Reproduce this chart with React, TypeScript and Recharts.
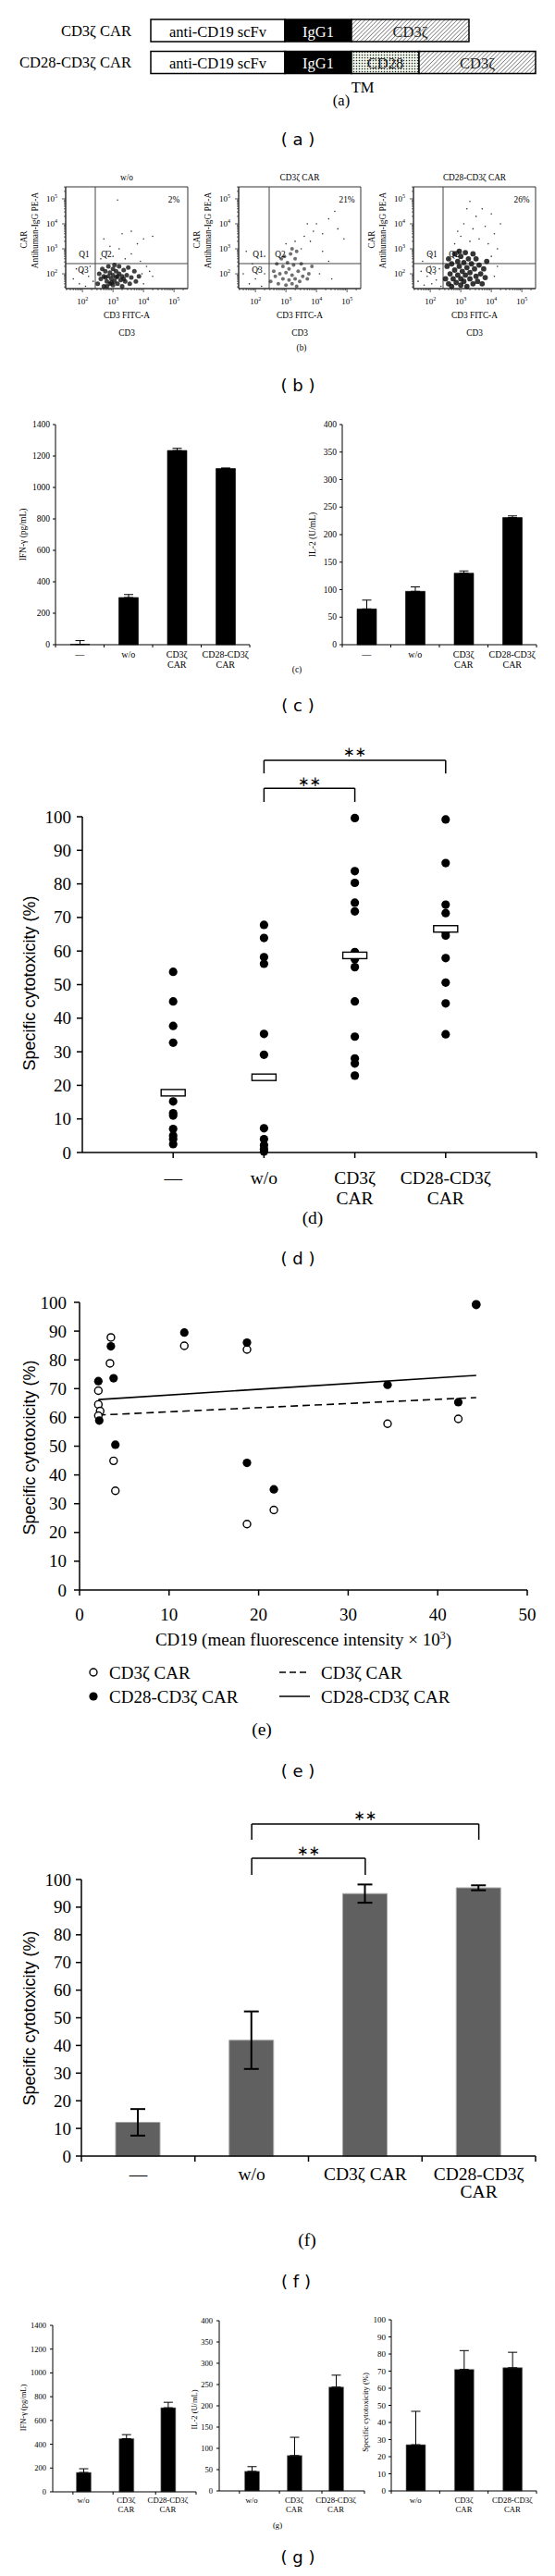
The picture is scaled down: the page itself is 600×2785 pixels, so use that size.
import React from "react";
import {
  ComposedChart,
  BarChart,
  Bar,
  Scatter,
  XAxis,
  YAxis,
  ErrorBar,
  ReferenceLine,
  ReferenceDot,
  ReferenceArea,
  LabelList,
} from "recharts";

const SERIF = '"Liberation Serif", "DejaVu Serif", serif';
const SANS = '"Liberation Sans", Arial, sans-serif';
const TAG = '"DejaVu Sans", sans-serif';

// (a) CAR constructs, segment lengths
const constructs = ["CD3ζ CAR", "CD28-CD3ζ CAR"];
const scfvLen = [145, 145];
const iggLen = [72, 72];
const cd28Len = [0, 73];
const cd3zLen = [127, 126];

// (b) flow cytometry, log10 units [CD3 FITC, CAR PE]
const flowTitles = ["w/o", "CD3ζ CAR", "CD28-CD3ζ CAR"];
const flowPct = ["2%", "21%", "26%"];
const flowGateX = [2.42, 2.45, 2.42];
const flowGateY = 2.41;
const woCore = [[2.5,1.6],[2.55,2.0],[2.6,1.8],[2.65,2.2],[2.7,1.5],[2.7,1.9],[2.75,2.1],[2.8,1.7],[2.85,2.3],[2.85,1.9],[2.9,1.6],[2.9,2.05],[2.95,1.8],[3.0,1.55],[3.0,2.2],[3.0,1.95],[3.05,1.7],[3.1,2.1],[3.1,1.85],[3.15,1.6],[3.2,2.0],[3.2,2.3],[3.25,1.75],[3.3,1.9],[3.3,1.5],[3.35,2.15],[3.4,1.7],[3.45,1.95],[3.5,2.25],[3.55,1.6],[3.6,1.85],[3.7,2.1],[3.75,1.7],[3.85,1.9],[2.8,1.5],[3.05,2.35],[2.95,1.65],[3.15,1.9],[2.75,1.85],[3.35,1.8]];
const woSparse = [[1.7,1.8],[1.9,1.6],[2.0,2.1],[2.1,1.5],[2.2,1.9],[2.25,2.3],[2.35,1.7],[1.8,2.2],[2.6,2.6],[2.8,2.9],[3.0,2.7],[3.2,3.0],[3.4,2.6],[3.6,2.8],[3.9,2.5],[4.1,2.3],[4.3,1.9],[4.0,1.6],[2.7,3.4],[3.3,3.6],[3.6,3.7],[4.0,3.4],[4.3,3.5],[3.15,4.95],[2.9,3.1],[3.8,3.2],[4.2,2.1],[3.95,2.0]];
const cd3Core = [[2.5,1.7],[2.6,2.1],[2.65,1.9],[2.7,2.4],[2.75,1.6],[2.8,2.0],[2.85,2.6],[2.9,1.8],[2.9,2.3],[2.95,2.7],[3.0,1.55],[3.0,2.05],[3.05,2.45],[3.1,1.75],[3.1,2.2],[3.15,2.8],[3.2,1.6],[3.2,1.95],[3.25,2.35],[3.3,1.8],[3.3,2.6],[3.35,1.5],[3.4,2.1],[3.45,1.7],[3.5,2.4],[3.55,1.9],[3.6,2.2],[3.7,1.8],[3.75,2.0],[3.85,2.3],[3.2,3.0],[3.35,2.9]];
const cd3Sparse = [[1.6,2.0],[1.8,1.6],[1.9,2.4],[2.0,1.8],[2.1,2.2],[2.2,1.5],[2.3,2.0],[1.7,2.9],[2.3,2.7],[3.0,3.2],[3.3,3.3],[3.5,3.0],[3.6,3.5],[3.8,3.3],[3.9,3.7],[4.0,4.0],[4.2,3.6],[4.4,4.2],[4.6,4.5],[4.7,3.8],[4.9,3.4],[4.2,2.9],[4.4,2.5],[4.1,2.0],[4.5,1.8],[3.7,4.0]];
const cd28Core = [[2.5,1.8],[2.55,2.3],[2.6,1.6],[2.6,2.6],[2.65,2.0],[2.7,1.5],[2.7,2.4],[2.75,1.8],[2.8,2.8],[2.8,2.15],[2.85,1.65],[2.9,2.5],[2.9,1.95],[2.95,2.3],[3.0,1.55],[3.0,1.8],[3.0,2.7],[3.05,2.1],[3.1,2.45],[3.1,1.7],[3.15,1.95],[3.2,2.25],[3.2,1.5],[3.25,2.6],[3.3,1.8],[3.3,2.05],[3.35,2.4],[3.4,1.6],[3.45,2.2],[3.5,1.9],[3.5,2.6],[3.55,1.7],[3.6,2.35],[3.65,2.0],[3.7,1.6],[3.75,2.2],[3.8,1.85],[3.85,2.5],[2.95,2.9],[3.15,2.85],[3.4,2.8]];
const cd28Sparse = [[1.6,1.7],[1.7,2.1],[1.8,1.55],[1.9,1.9],[2.0,2.3],[2.05,1.6],[2.15,2.0],[2.2,1.75],[2.3,2.2],[2.35,1.5],[1.75,2.5],[2.0,2.8],[2.8,3.2],[3.0,3.5],[3.1,4.0],[3.2,4.6],[3.3,3.3],[3.4,3.8],[3.5,4.3],[3.6,3.4],[3.7,4.6],[3.8,3.9],[3.9,3.2],[4.0,4.4],[4.1,3.6],[4.2,3.0],[4.3,4.0],[4.0,2.7],[4.2,2.3],[4.1,1.9],[3.3,4.9],[2.9,3.7]];
const flowCore = [woCore, cd3Core, cd28Core];
const flowSparse = [woSparse, cd3Sparse, cd28Sparse];

// (c) cytokines
const cLabels = [["—"], ["w/o"], ["CD3ζ", "CAR"], ["CD28-CD3ζ", "CAR"]];
const cCatX = [0.5, 1.5, 2.5, 3.5];
const cMarks = [0, 1, 2, 3, 4];
const ifnTicks = [0, 200, 400, 600, 800, 1000, 1200, 1400];
const il2Ticks = [0, 50, 100, 150, 200, 250, 300, 350, 400];
const ifnC = [2, 300, 1235, 1120];
const ifnCErr = [24, 19, 14, 4];
const il2C = [65, 97, 130, 231];
const il2CErr = [16, 8, 4, 3];

// (d) specific cytotoxicity per donor
const pctTicks = [0, 10, 20, 30, 40, 50, 60, 70, 80, 90, 100];
const dLabels = [["—"], ["w/o"], ["CD3ζ", "CAR"], ["CD28-CD3ζ", "CAR"]];
const dNone = [53.8, 45, 37.7, 32.7, 15.2, 11.7, 11, 7, 5, 4, 2.5];
const dWo = [67.8, 63.9, 58.2, 56.2, 35.3, 29.1, 7.2, 4, 2.2, 1, 0.3];
const dCd3 = [99.6, 83.8, 80.3, 74.4, 71.8, 59.7, 58.6, 57.6, 55.2, 45, 34.5, 28, 26.5, 22.9];
const dCd28 = [99.2, 86.2, 73.8, 71.3, 65.6, 64.6, 57.9, 50.6, 44.4, 35.2];
const dMedian = [17.8, 22.4, 58.7, 66.6];
const dBrFrom = [2, 2];
const dBrTo = [3, 4];
const dBrTop = [108.5, 116.8];
const dBrFoot = [104.4, 112.9];
const dStarY = [110.6, 119.4];

// (e) cytotoxicity vs CD19 MFI
const eXTicks = [0, 10, 20, 30, 40, 50];
const eOpen = [[2.1,69.3],[2.1,64.5],[2.3,62.2],[2.1,60.6],[3.5,87.8],[3.4,78.8],[3.8,44.9],[4.0,34.5],[11.7,84.9],[18.7,83.6],[18.7,22.9],[21.7,27.8],[34.4,57.8],[42.3,59.5],[44.3,99.3]];
const eFilled = [[2.1,72.6],[2.2,58.9],[3.5,84.7],[3.8,73.6],[4.0,50.5],[11.7,89.5],[18.7,86.0],[18.7,44.2],[21.7,35.0],[34.4,71.3],[42.3,65.3],[44.3,99.1]];
const eFitCd3 = [[2.1, 60.8], [44.3, 66.9]];
const eFitCd28 = [[2.1, 66.2], [44.3, 74.6]];

// (f) mean cytotoxicity
const fLabels = [["—"], ["w/o"], ["CD3ζ CAR"], ["CD28-CD3ζ", "CAR"]];
const fCatX = [0.5, 1.5, 2.5, 3.5];
const fMarks = [0, 1, 2, 3, 4];
const fVals = [12.2, 41.9, 94.9, 97.0];
const fErr = [4.8, 10.4, 3.3, 0.9];
const fBrFrom = [1.5, 1.5];
const fBrTo = [2.5, 3.5];
const fBrTop = [107.7, 120.1];
const fBrFoot = [101.7, 114.4];
const fStarY = [110.6, 123.3];

// (g) second donor set
const gLabels = [["w/o"], ["CD3ζ", "CAR"], ["CD28-CD3ζ", "CAR"]];
const gIfn = [163, 447, 707];
const gIfnErr = [31, 34, 46];
const gIfnX = [0.725, 1.74, 2.73];
const gIfnMarks = [0.48, 1.43, 2.44, 3.4];
const gIl2 = [46, 83, 244];
const gIl2Err = [11, 43, 28];
const gIl2X = [0.77, 1.78, 2.77];
const gIl2Marks = [0.48, 1.43, 2.44, 3.45];
const gCyto = [27, 71, 72];
const gCytoErr = [19.5, 11, 9];
const gCytoX = [0.5, 1.5, 2.5];
const gCytoMarks = [0, 1, 2, 3];

type Pad = { t: number; r: number; b: number; l: number };

// chart box so that the plot area lands on [x0,x1]x[y0,y1]; axes take the left/bottom pad
function place(x0: number, y0: number, x1: number, y1: number, p: Pad) {
  const l = Math.min(p.l, x0);
  const r = Math.min(p.r, 600 - x1);
  return {
    style: { position: "absolute" as const, left: x0 - l, top: y0 - p.t },
    width: x1 - x0 + l + r,
    height: y1 - y0 + p.t + p.b,
    margin: { top: p.t, right: r, bottom: 0, left: 0 },
    yW: l,
    xH: p.b,
  };
}

function Txt({ x, y, size, children, font = SERIF, anchor = "middle", rotate = false }: any) {
  const tx = anchor === "start" ? "0" : anchor === "end" ? "-100%" : "-50%";
  return (
    <div
      style={{
        position: "absolute",
        left: x,
        top: y,
        transform: `translate(${tx}, -50%)${rotate ? " rotate(-90deg)" : ""}`,
        fontFamily: font,
        fontSize: size,
        lineHeight: 1,
        whiteSpace: "nowrap",
        color: "#000",
      }}
    >
      {children}
    </div>
  );
}

const axisBase = { tickLine: false, tickSize: 0, tickMargin: 0, interval: 0 as const };

function yTickFn(o: { len: number; gap: number; size: number; sw?: number }) {
  return (p: any) => (
    <g>
      <line x1={p.x - o.len} x2={p.x} y1={p.y} y2={p.y} stroke="#000" strokeWidth={o.sw ?? 1} />
      <text x={p.x - o.gap} y={p.y} textAnchor="end" dominantBaseline="central" fontSize={o.size} fontFamily={SERIF} fill="#000">
        {p.payload.value}
      </text>
    </g>
  );
}

function xTickFn(o: { marks: number[]; at: number[]; labels: string[][]; len: number; gap: number; lh: number; size: number; sw?: number }) {
  return (p: any) => {
    const v = p.payload.value;
    const ci = o.at.indexOf(v);
    return (
      <g>
        {o.marks.includes(v) && <line x1={p.x} x2={p.x} y1={p.y} y2={p.y + o.len} stroke="#000" strokeWidth={o.sw ?? 1} />}
        {ci >= 0 &&
          o.labels[ci].map((s, k) => (
            <text key={k} x={p.x} y={p.y + o.gap + k * o.lh} textAnchor="middle" dominantBaseline="central" fontSize={o.size} fontFamily={SERIF} fill="#000">
              {s}
            </text>
          ))}
      </g>
    );
  };
}

const isMajor = (v: number) => Math.abs(v - Math.round(v)) < 1e-6;
function logTicks(lo: number, hi: number) {
  const out: number[] = [];
  for (let n = 1; n <= 5; n++)
    for (let k = 1; k <= 9; k++) {
      const v = n + Math.log10(k);
      if (v >= lo && v <= hi) out.push(v);
    }
  return out;
}

const FlowXTick = (p: any) => {
  const v = p.payload.value;
  const m = isMajor(v);
  return (
    <g>
      <line x1={p.x} x2={p.x} y1={p.y} y2={p.y + (m ? 4 : 2)} stroke="#333" strokeWidth={0.8} />
      {m && (
        <text x={p.x} y={p.y + 17} textAnchor="middle" fontSize={9} fontFamily={SERIF} fill="#000">
          10<tspan dy={-4} fontSize={6}>{Math.round(v)}</tspan>
        </text>
      )}
    </g>
  );
};

const FlowYTick = (p: any) => {
  const v = p.payload.value;
  const m = isMajor(v);
  return (
    <g>
      <line x1={p.x - (m ? 4 : 2)} x2={p.x} y1={p.y} y2={p.y} stroke="#333" strokeWidth={0.8} />
      {m && (
        <text x={p.x - 9} y={p.y + 3} textAnchor="end" fontSize={9} fontFamily={SERIF} fill="#000">
          10<tspan dy={-4} fontSize={6}>{Math.round(v)}</tspan>
        </text>
      )}
    </g>
  );
};

function PanelA() {
  const data = constructs.map((name, i) => ({ name, scfv: scfvLen[i], igg: iggLen[i], cd28: cd28Len[i], cd3z: cd3zLen[i] }));
  const f = place(163, 16, 579, 85, { t: 6, r: 15, b: 6, l: 160 });
  const seg = (label: string, color: string) => (p: any) =>
    p.width > 1 ? (
      <text x={p.x + p.width / 2} y={p.y + p.height / 2 + 1} textAnchor="middle" dominantBaseline="central" fontSize={16.5} fontFamily={SERIF} fill={color}>
        {label}
      </text>
    ) : (
      <g />
    );
  const nameTick = (p: any) => (
    <text x={p.x - 21} y={p.y} textAnchor="end" dominantBaseline="central" fontSize={16.5} fontFamily={SERIF} fill="#000">
      {p.payload.value}
    </text>
  );
  return (
    <div style={f.style}>
      <BarChart layout="vertical" width={f.width} height={f.height} margin={{ ...f.margin, bottom: f.xH }} data={data}>
        <defs>
          <pattern id="hatch" width="3.2" height="3.2" patternUnits="userSpaceOnUse" patternTransform="rotate(45)">
            <rect width="3.2" height="3.2" fill="#fff" />
            <line x1="0" y1="0" x2="0" y2="3.2" stroke="#222" strokeWidth="0.9" />
          </pattern>
          <pattern id="dots" width="3" height="3" patternUnits="userSpaceOnUse">
            <rect width="3" height="3" fill="#eef4ea" />
            <circle cx="1.5" cy="1.5" r="0.75" fill="#222" />
          </pattern>
        </defs>
        <XAxis type="number" domain={[0, 416]} hide />
        <YAxis type="category" dataKey="name" width={f.yW} axisLine={false} {...axisBase} tick={nameTick} />
        <Bar dataKey="scfv" stackId="s" fill="#fff" stroke="#000" strokeWidth={1.5} barSize={24} isAnimationActive={false}>
          <LabelList dataKey="scfv" content={seg("anti-CD19 scFv", "#000")} />
        </Bar>
        <Bar dataKey="igg" stackId="s" fill="#000" stroke="#000" strokeWidth={1.5} barSize={24} isAnimationActive={false}>
          <LabelList dataKey="igg" content={seg("IgG1", "#fff")} />
        </Bar>
        <Bar dataKey="cd28" stackId="s" fill="url(#dots)" stroke="#000" strokeWidth={1.5} barSize={24} isAnimationActive={false}>
          <LabelList dataKey="cd28" content={seg("CD28", "#222")} />
        </Bar>
        <Bar dataKey="cd3z" stackId="s" fill="url(#hatch)" stroke="#000" strokeWidth={1.5} barSize={24} isAnimationActive={false}>
          <LabelList dataKey="cd3z" content={seg("CD3ζ", "#222")} />
        </Bar>
      </BarChart>
    </div>
  );
}

function Flow({ idx }: { idx: number }) {
  const x0 = [71, 258, 447][idx];
  const x1 = x0 + 132;
  const y0 = 202;
  const y1 = 312;
  const f = place(x0, y0, x1, y1, { t: 4, r: 4, b: 24, l: 34 });
  const xd: [number, number] = [1.45, 5.45];
  const yd: [number, number] = [1.41, 5.48];
  const core = flowCore[idx].map(([x, y]) => ({ x, y }));
  const sparse = flowSparse[idx].map(([x, y]) => ({ x, y }));
  const gx = x0 + (flowGateX[idx] - xd[0]) * 33;
  const cx = x0 + 66;
  const coreR = [2.5, 2.0, 2.9][idx];
  const coreO = [0.8, 0.6, 0.85][idx];
  return (
    <>
      <div style={f.style}>
        <ComposedChart width={f.width} height={f.height} margin={f.margin}>
          <XAxis type="number" dataKey="x" domain={xd} ticks={logTicks(xd[0], xd[1])} height={f.xH} {...axisBase} axisLine={{ stroke: "#333" }} tick={FlowXTick} />
          <YAxis type="number" dataKey="y" domain={yd} ticks={logTicks(yd[0], yd[1])} width={f.yW} {...axisBase} axisLine={{ stroke: "#333" }} tick={FlowYTick} />
          <ReferenceArea x1={xd[0]} x2={xd[1]} y1={yd[0]} y2={yd[1]} fill="none" stroke="#333" strokeWidth={1} />
          <ReferenceLine x={flowGateX[idx]} stroke="#444" strokeWidth={1} />
          <ReferenceLine y={flowGateY} stroke="#444" strokeWidth={1} />
          <Scatter data={sparse} isAnimationActive={false} shape={(p: any) => <circle cx={p.cx} cy={p.cy} r={0.8} fill="#333" />} />
          <Scatter data={core} isAnimationActive={false} shape={(p: any) => <circle cx={p.cx} cy={p.cy} r={coreR} fill="#111" fillOpacity={coreO} />} />
        </ComposedChart>
      </div>
      <Txt x={cx} y={193} size={9.3}>{flowTitles[idx]}</Txt>
      <Txt x={x0 + 117} y={217} size={9.3}>{flowPct[idx]}</Txt>
      <Txt x={gx - 12} y={276} size={9.3}>Q1</Txt>
      <Txt x={gx + 12} y={276} size={9.3}>Q2</Txt>
      <Txt x={gx - 13} y={293} size={9.3}>Q3</Txt>
      <Txt x={cx} y={342} size={9.3}>CD3 FITC-A</Txt>
      <Txt x={cx} y={361} size={9.3}>CD3</Txt>
      <Txt x={x0 - 44} y={259} size={9.3} rotate>CAR</Txt>
      <Txt x={x0 - 32} y={249} size={9.3} rotate>Antihuman-IgG PE-A</Txt>
    </>
  );
}

function SmallBar(props: any) {
  const [x0, y0, x1, y1] = props.box;
  const f = place(x0, y0, x1, y1, { t: 10, r: 10, b: 30, l: 40 });
  const data = props.vals.map((v: number, i: number) => ({ x: props.catX[i], v, e: [0, props.errs[i]] }));
  const ticks = [...props.marks, ...props.catX].sort((a: number, b: number) => a - b);
  return (
    <div style={f.style}>
      <ComposedChart width={f.width} height={f.height} margin={f.margin} data={data}>
        <XAxis
          type="number"
          dataKey="x"
          domain={props.domain}
          ticks={ticks}
          height={f.xH}
          {...axisBase}
          axisLine={{ stroke: "#000" }}
          tick={xTickFn({ marks: props.marks, at: props.catX, labels: props.labels, len: 3, gap: props.lgap, lh: props.size + 1, size: props.size })}
        />
        <YAxis type="number" domain={[0, props.yMax]} ticks={props.yTicks} width={f.yW} {...axisBase} axisLine={{ stroke: "#000" }} tick={yTickFn({ len: 3, gap: props.ygap, size: props.tsize })} />
        <Bar dataKey="v" fill="#000" stroke={props.barStroke} strokeWidth={0.6} barSize={props.barSize} isAnimationActive={false}>
          <ErrorBar dataKey="e" width={props.cap} stroke="#000" strokeWidth={1} direction="y" />
        </Bar>
      </ComposedChart>
    </div>
  );
}

function Brackets({ from, to, top, foot, star }: any) {
  return [
    ...from.map((a: number, i: number) => (
      <ReferenceLine key={`a${i}`} segment={[{ x: a, y: foot[i] }, { x: a, y: top[i] }]} stroke="#000" strokeWidth={1.5} ifOverflow="visible" />
    )),
    ...from.map((a: number, i: number) => (
      <ReferenceLine key={`h${i}`} segment={[{ x: a, y: top[i] }, { x: to[i], y: top[i] }]} stroke="#000" strokeWidth={1.5} ifOverflow="visible" />
    )),
    ...to.map((b: number, i: number) => (
      <ReferenceLine key={`b${i}`} segment={[{ x: b, y: top[i] }, { x: b, y: foot[i] }]} stroke="#000" strokeWidth={1.5} ifOverflow="visible" />
    )),
    ...from.map((a: number, i: number) => (
      <ReferenceDot
        key={`s${i}`}
        x={(a + to[i]) / 2}
        y={star[i]}
        r={1}
        fill="none"
        stroke="none"
        ifOverflow="visible"
        label={{ value: "∗∗", position: "center", fontSize: 15, fill: "#000", fontFamily: TAG }}
      />
    )),
  ];
}

function PanelD() {
  const groups = [dNone, dWo, dCd3, dCd28];
  const dots = groups.flatMap((g, i) => g.map((y) => ({ x: i + 1, y })));
  const meds = dMedian.map((y, i) => ({ x: i + 1, y }));
  const f = place(89, 883, 580, 1246, { t: 90, r: 15, b: 60, l: 89 });
  return (
    <div style={f.style}>
      <ComposedChart width={f.width} height={f.height} margin={f.margin}>
        <XAxis
          type="number"
          dataKey="x"
          domain={[0, 5]}
          ticks={[1, 2, 3, 4, 5]}
          height={f.xH}
          {...axisBase}
          axisLine={{ stroke: "#000", strokeWidth: 1.5 }}
          tick={xTickFn({ marks: [1, 2, 3, 4, 5], at: [1, 2, 3, 4], labels: dLabels, len: 6, gap: 27, lh: 22, size: 19.5, sw: 1.5 })}
        />
        <YAxis type="number" dataKey="y" domain={[0, 100]} ticks={pctTicks} width={f.yW} {...axisBase} axisLine={{ stroke: "#000", strokeWidth: 1.5 }} tick={yTickFn({ len: 6, gap: 12, size: 19, sw: 1.5 })} />
        <Scatter data={dots} isAnimationActive={false} shape={(p: any) => <circle cx={p.cx} cy={p.cy} r={4.6} fill="#000" />} />
        <Scatter data={meds} isAnimationActive={false} shape={(p: any) => <rect x={p.cx - 13} y={p.cy - 3.5} width={26} height={7} fill="#fff" stroke="#000" strokeWidth={1.4} />} />
        {Brackets({ from: dBrFrom, to: dBrTo, top: dBrTop, foot: dBrFoot, star: dStarY })}
      </ComposedChart>
    </div>
  );
}

function PanelE() {
  const open = eOpen.map(([x, y]) => ({ x, y }));
  const filled = eFilled.map(([x, y]) => ({ x, y }));
  const fit3 = eFitCd3.map(([x, y]) => ({ x, y }));
  const fit28 = eFitCd28.map(([x, y]) => ({ x, y }));
  const f = place(86, 1408, 570, 1719, { t: 10, r: 25, b: 45, l: 86 });
  const none = () => <g />;
  return (
    <div style={f.style}>
      <ComposedChart width={f.width} height={f.height} margin={f.margin}>
        <XAxis
          type="number"
          dataKey="x"
          domain={[0, 50]}
          ticks={eXTicks}
          height={f.xH}
          {...axisBase}
          axisLine={{ stroke: "#000", strokeWidth: 1.5 }}
          tick={xTickFn({ marks: eXTicks, at: eXTicks, labels: eXTicks.map((v) => [String(v)]), len: 6, gap: 26, lh: 20, size: 19, sw: 1.5 })}
        />
        <YAxis type="number" dataKey="y" domain={[0, 100]} ticks={pctTicks} width={f.yW} {...axisBase} axisLine={{ stroke: "#000", strokeWidth: 1.5 }} tick={yTickFn({ len: 6, gap: 14, size: 19, sw: 1.5 })} />
        <Scatter data={fit3} isAnimationActive={false} line={{ stroke: "#000", strokeWidth: 1.6, strokeDasharray: "8 5" }} shape={none} />
        <Scatter data={fit28} isAnimationActive={false} line={{ stroke: "#000", strokeWidth: 1.6 }} shape={none} />
        <Scatter data={open} isAnimationActive={false} shape={(p: any) => <circle cx={p.cx} cy={p.cy} r={4} fill="#fff" stroke="#000" strokeWidth={1.4} />} />
        <Scatter data={filled} isAnimationActive={false} shape={(p: any) => <circle cx={p.cx} cy={p.cy} r={4.6} fill="#000" />} />
      </ComposedChart>
    </div>
  );
}

function PanelF() {
  const data = fVals.map((v, i) => ({ x: fCatX[i], v, e: fErr[i] }));
  const ticks = [...fMarks, ...fCatX].sort((a, b) => a - b);
  const f = place(88, 2032, 579, 2331, { t: 80, r: 15, b: 50, l: 88 });
  return (
    <div style={f.style}>
      <ComposedChart width={f.width} height={f.height} margin={f.margin} data={data}>
        <XAxis
          type="number"
          dataKey="x"
          domain={[0, 4]}
          ticks={ticks}
          height={f.xH}
          {...axisBase}
          axisLine={{ stroke: "#000", strokeWidth: 1.5 }}
          tick={xTickFn({ marks: fMarks, at: fCatX, labels: fLabels, len: 6, gap: 19, lh: 19, size: 19.5, sw: 1.5 })}
        />
        <YAxis type="number" domain={[0, 100]} ticks={pctTicks} width={f.yW} {...axisBase} axisLine={{ stroke: "#000", strokeWidth: 1.5 }} tick={yTickFn({ len: 6, gap: 11, size: 19, sw: 1.5 })} />
        <Bar dataKey="v" fill="#606060" stroke="#a8a8a8" strokeWidth={1} barSize={48} isAnimationActive={false}>
          <ErrorBar dataKey="e" width={8} stroke="#000" strokeWidth={2} direction="y" />
        </Bar>
        {Brackets({ from: fBrFrom, to: fBrTo, top: fBrTop, foot: fBrFoot, star: fStarY })}
      </ComposedChart>
    </div>
  );
}

export default function App() {
  return (
    <div style={{ position: "absolute", left: 0, top: 0, width: 600, height: 2785, background: "#fff", overflow: "hidden" }}>
      {/* (a) */}
      <PanelA />
      <Txt x={392} y={95} size={16.5}>TM</Txt>
      <Txt x={369} y={109} size={16.5}>(a)</Txt>
      <Txt x={322} y={151} size={18} font={TAG}>( a )</Txt>

      {/* (b) */}
      <Flow idx={0} />
      <Flow idx={1} />
      <Flow idx={2} />
      <Txt x={326} y={377} size={9.3}>(b)</Txt>
      <Txt x={322} y={417} size={18} font={TAG}>( b )</Txt>

      {/* (c) */}
      <SmallBar box={[60, 459, 270, 697]} domain={[0, 4]} yMax={1400} yTicks={ifnTicks} catX={cCatX} marks={cMarks} labels={cLabels} vals={ifnC} errs={ifnCErr} barSize={21} size={10} tsize={9.5} lgap={10} ygap={6} cap={5} barStroke="#000" />
      <SmallBar box={[370, 459, 580, 697]} domain={[0, 4]} yMax={400} yTicks={il2Ticks} catX={cCatX} marks={cMarks} labels={cLabels} vals={il2C} errs={il2CErr} barSize={21} size={10} tsize={9.5} lgap={10} ygap={6} cap={5} barStroke="#000" />
      <Txt x={26} y={578} size={9.5} rotate>IFN-γ (pg/mL)</Txt>
      <Txt x={339} y={578} size={9.5} rotate>IL-2 (U/mL)</Txt>
      <Txt x={321} y={725} size={9.5}>(c)</Txt>
      <Txt x={322} y={763} size={18} font={TAG}>( c )</Txt>

      {/* (d) */}
      <PanelD />
      <Txt x={32} y={1063} size={18} font={SANS} rotate>Specific cytotoxicity (%)</Txt>
      <Txt x={338} y={1317} size={19.5}>(d)</Txt>
      <Txt x={322} y={1361} size={18} font={TAG}>( d )</Txt>

      {/* (e) */}
      <PanelE />
      <Txt x={32} y={1565} size={18} font={SANS} rotate>Specific cytotoxicity (%)</Txt>
      <Txt x={328} y={1772} size={19}>
        CD19 (mean fluorescence intensity × 10<sup style={{ fontSize: 12 }}>3</sup>)
      </Txt>
      <svg style={{ position: "absolute", left: 90, top: 1796, overflow: "visible" }} width={260} height={50}>
        <circle cx={11} cy={12} r={4} fill="#fff" stroke="#000" strokeWidth={1.4} />
        <circle cx={11} cy={38} r={4.6} fill="#000" />
        <line x1={212} x2={245} y1={12} y2={12} stroke="#000" strokeWidth={1.5} strokeDasharray="7 4" />
        <line x1={212} x2={245} y1={38} y2={38} stroke="#000" strokeWidth={1.5} />
      </svg>
      <Txt x={118} y={1808} size={19} anchor="start">CD3ζ CAR</Txt>
      <Txt x={118} y={1834} size={19} anchor="start">CD28-CD3ζ CAR</Txt>
      <Txt x={347} y={1808} size={19} anchor="start">CD3ζ CAR</Txt>
      <Txt x={347} y={1834} size={19} anchor="start">CD28-CD3ζ CAR</Txt>
      <Txt x={283} y={1870} size={19.5}>(e)</Txt>
      <Txt x={322} y={1915} size={18} font={TAG}>( e )</Txt>

      {/* (f) */}
      <PanelF />
      <Txt x={32} y={2182} size={18} font={SANS} rotate>Specific cytotoxicity (%)</Txt>
      <Txt x={332} y={2422} size={19.5}>(f)</Txt>
      <Txt x={320} y={2467} size={18} font={TAG}>( f )</Txt>

      {/* (g) */}
      <SmallBar box={[57, 2514, 212, 2694]} domain={[0, 3.4]} yMax={1400} yTicks={ifnTicks} catX={gIfnX} marks={gIfnMarks} labels={gLabels} vals={gIfn} errs={gIfnErr} barSize={16} size={8.7} tsize={8.5} lgap={9} ygap={7} cap={5} barStroke="#777" />
      <SmallBar box={[237, 2509, 394, 2693]} domain={[0, 3.45]} yMax={400} yTicks={il2Ticks} catX={gIl2X} marks={gIl2Marks} labels={gLabels} vals={gIl2} errs={gIl2Err} barSize={16} size={8.7} tsize={8.5} lgap={10} ygap={7} cap={5} barStroke="#777" />
      <SmallBar box={[423, 2508, 580, 2693]} domain={[0, 3]} yMax={100} yTicks={pctTicks} catX={gCytoX} marks={gCytoMarks} labels={gLabels} vals={gCyto} errs={gCytoErr} barSize={21} size={8.7} tsize={9} lgap={10} ygap={6} cap={5} barStroke="#777" />
      <Txt x={25} y={2603} size={8.5} rotate>IFN-γ (pg/mL)</Txt>
      <Txt x={210} y={2605} size={8.5} rotate>IL-2 (U/mL)</Txt>
      <Txt x={395} y={2608} size={8.5} rotate>Specific cytotoxicity (%)</Txt>
      <Txt x={300} y={2730} size={8.7}>(g)</Txt>
      <Txt x={322} y={2765} size={18} font={TAG}>( g )</Txt>
    </div>
  );
}
